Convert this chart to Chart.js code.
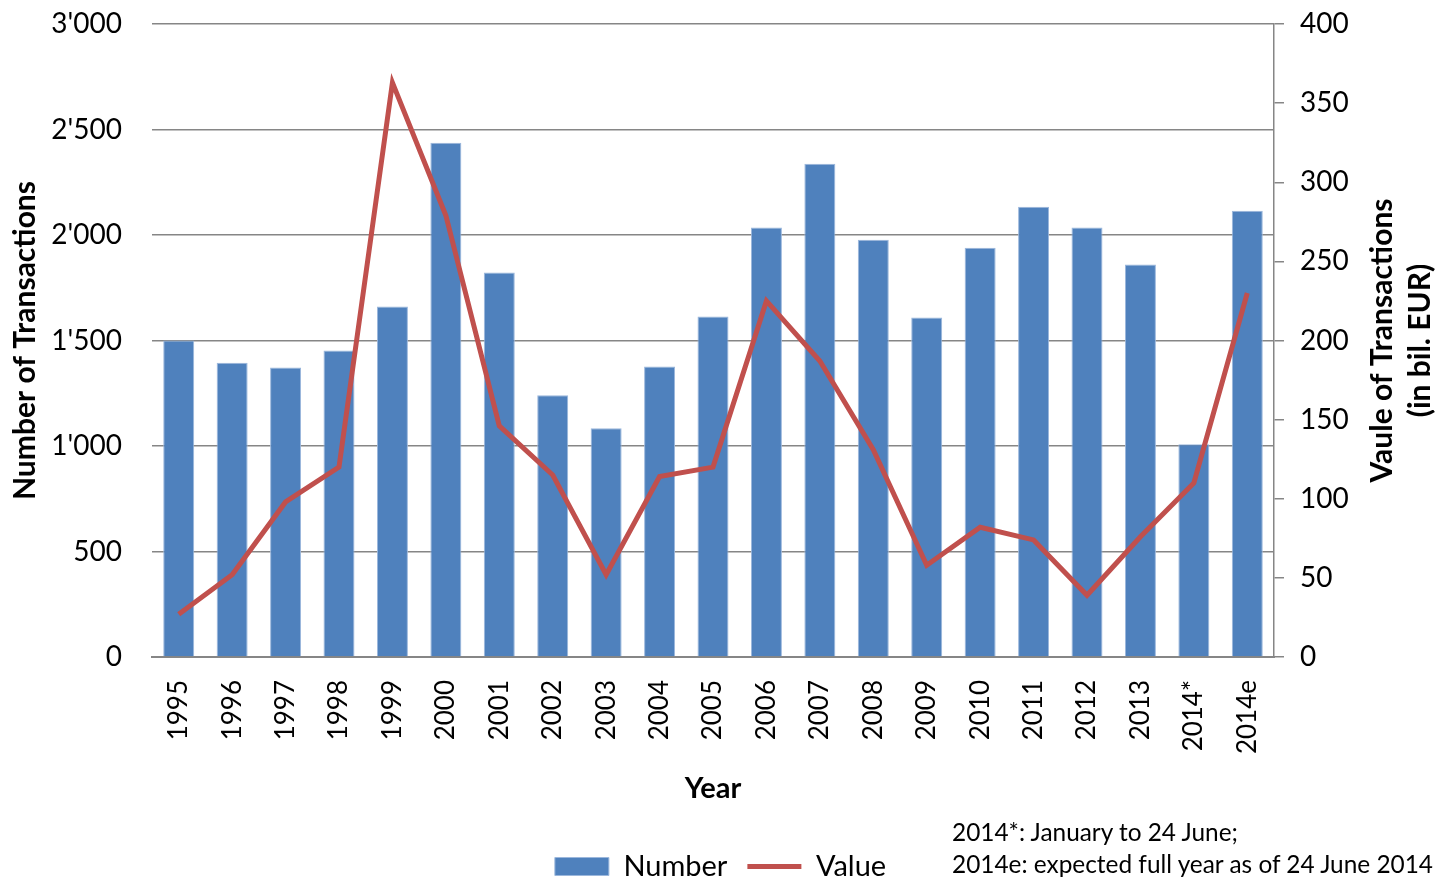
<!DOCTYPE html>
<html>
<head>
<meta charset="utf-8">
<script src="https://cdn.jsdelivr.net/npm/chart.js@4/dist/chart.umd.min.js"></script>
<style>
    html, body { margin: 0; padding: 0; background: #fff; }
    #wrap { position: relative; width: 1441px; height: 879px; }
    .note { position: absolute; left: 952px; font-family: Lato, sans-serif; font-size: 24.4px; color: #000; white-space: nowrap; }
</style>
</head>
<body>
<div id="wrap">
    <canvas id="deals" width="1441" height="879"></canvas>
    <div class="note" style="top: 817px;">2014*: January to 24 June;</div>
    <div class="note" style="top: 849px;">2014e: expected full year as of 24 June 2014</div>
</div>
<script>
const years = ['1995', '1996', '1997', '1998', '1999', '2000', '2001', '2002', '2003', '2004', '2005',
    '2006', '2007', '2008', '2009', '2010', '2011', '2012', '2013', '2014*', '2014e'];
const numberOfDeals = [1500, 1395, 1372, 1453, 1661, 2437, 1822, 1240, 1084, 1377, 1614,
    2035, 2338, 1978, 1609, 1940, 2134, 2035, 1860, 1008, 2115];
const valueOfDeals = [27, 52, 98, 120, 363, 279, 146, 115, 52, 114, 120,
    225, 187, 131, 58, 82, 74, 39, 76, 110, 230];
const leftTicks = [0, 500, 1000, 1500, 2000, 2500, 3000];
const rightTicks = [0, 50, 100, 150, 200, 250, 300, 350, 400];

Chart.defaults.font.family = 'Lato, sans-serif';
Chart.defaults.font.size = 26;
Chart.defaults.color = '#000';

const gray = '#868686';

function swissNumber(v) {
    if (v < 1000) return String(v);
    return Math.floor(v / 1000) + "'" + String(v % 1000).padStart(3, '0');
}

// right title reads bottom-to-top like the left one, so draw it by hand
const rightTitle = {
    id: 'rightTitle',
    afterDraw(chart) {
        const ctx = chart.ctx;
        const area = chart.chartArea;
        const s = chart.scales.y1;
        const midY = (area.top + area.bottom) / 2;
        const lines = [['Vaule of Transactions', 59], ['(in bil. EUR)', 21]];
        lines.forEach(function (l) {
            ctx.save();
            ctx.font = 'bold 30px Lato, sans-serif';
            ctx.fillStyle = '#000';
            ctx.textAlign = 'center';
            ctx.textBaseline = 'middle';
            ctx.translate(s.right - l[1], midY);
            ctx.rotate(-Math.PI / 2);
            ctx.fillText(l[0], 0, 0);
            ctx.restore();
        });
    }
};

// keep tick label overhang from pushing the plot area around
function noPad(scale) {
    scale.paddingTop = 0;
    scale.paddingBottom = 0;
}

const ctx = document.getElementById('deals').getContext('2d');
const dealsChart = new Chart(ctx, {
    type: 'bar',
    data: {
        labels: years,
        datasets: [{
            type: 'bar',
            label: 'Number',
            data: numberOfDeals,
            yAxisID: 'y',
            backgroundColor: '#4F81BD',
            borderColor: '#9bb7dc',
            borderWidth: 1,
            barPercentage: 0.58,
            categoryPercentage: 1,
            pointStyle: 'rect',
            order: 1
        }, {
            type: 'line',
            label: 'Value',
            data: valueOfDeals,
            yAxisID: 'y1',
            borderColor: '#C0504D',
            backgroundColor: '#C0504D',
            borderWidth: 5,
            pointRadius: 0,
            pointStyle: 'line',
            tension: 0,
            order: 0
        }]
    },
    options: {
        responsive: false,
        animation: false,
        layout: { padding: { top: 24, bottom: -12, left: 0, right: 0 } },
        plugins: {
            tooltip: { enabled: false },
            legend: {
                position: 'bottom',
                labels: {
                    usePointStyle: true,
                    pointStyleWidth: 54,
                    boxHeight: 18,
                    padding: 20,
                    font: { size: 29 },
                    sort: (a, b) => a.datasetIndex - b.datasetIndex
                }
            }
        },
        scales: {
            x: {
                offset: true,
                grid: { display: false, drawTicks: false },
                border: { color: gray, width: 2 },
                ticks: { minRotation: 90, maxRotation: 90, padding: 23, autoSkip: false, font: { size: 26 } },
                title: { display: true, text: 'Year', font: { size: 29, weight: 'bold' }, padding: { top: 0, bottom: 26 } },
                afterFit: function (scale) { scale.height = 175; }
            },
            y: {
                position: 'left',
                min: 0,
                max: 3000,
                afterBuildTicks: function (scale) { scale.ticks = leftTicks.map(v => ({ value: v })); },
                ticks: { padding: 30, font: { size: 28 }, callback: v => swissNumber(v) },
                grid: { color: gray, lineWidth: 1.5, drawTicks: false },
                border: { display: false },
                title: { display: true, text: 'Number of Transactions', font: { size: 30, weight: 'bold' }, padding: { top: 7, bottom: 0 } },
                afterFit: function (scale) { scale.width = 152; noPad(scale); }
            },
            y1: {
                position: 'right',
                min: 0,
                max: 400,
                afterBuildTicks: function (scale) { scale.ticks = rightTicks.map(v => ({ value: v })); },
                ticks: { padding: 16, font: { size: 28 } },
                grid: { drawOnChartArea: false, color: gray, lineWidth: 1.5, tickLength: 10 },
                border: { color: gray, width: 1.5 },
                afterFit: function (scale) { scale.width = 167; noPad(scale); }
            }
        }
    },
    plugins: [rightTitle]
});
</script>
</body>
</html>
